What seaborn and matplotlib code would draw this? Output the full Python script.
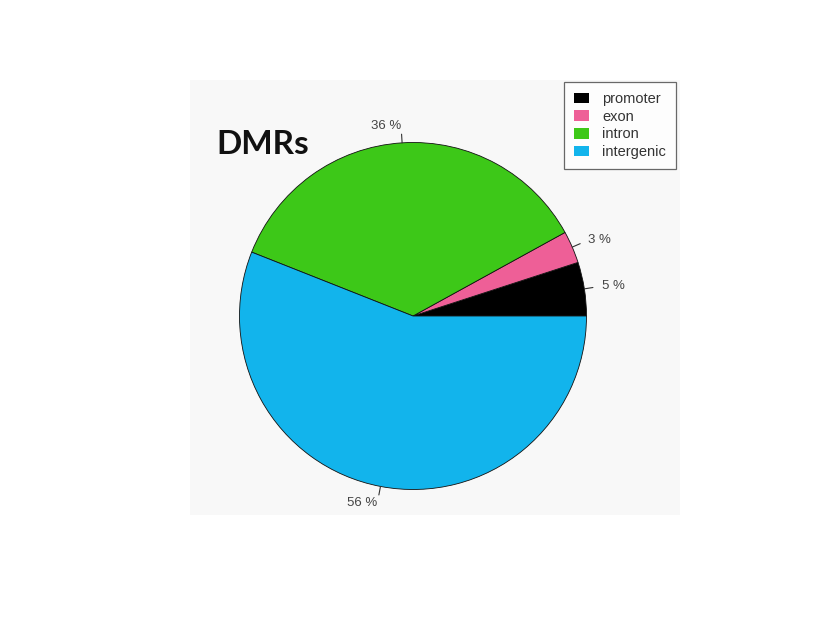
import numpy as np
import matplotlib
matplotlib.use("Agg")
import matplotlib.pyplot as plt
from matplotlib.patches import Patch, Rectangle
import seaborn as sns

categories = ["promoter", "exon", "intron", "intergenic"]
values = [5, 3, 36, 56]
pct_labels = ["5 %", "3 %", "36 %", "56 %"]
colors = ["#000000", "#EE5F97", "#3DC818", "#12B4EC"]
title = "DMRs"

sns.set_theme(style="white")
plt.rcParams['font.family'] = ['Liberation Sans', 'DejaVu Sans']

W, H = 840, 624
fig = plt.figure(figsize=(W / 100, H / 100), dpi=100)
fig.patch.set_facecolor("white")

# textured panel background
fig.patches.append(Rectangle((190 / W, 1 - 515 / H), 490 / W, 435 / H,
                             transform=fig.transFigure, facecolor="#f8f8f8",
                             edgecolor="none", zorder=-5))

R = 173.5
lim = 1.3
size = 2 * R * lim
cx, cy = 413, H - 316
ax = fig.add_axes([(cx - size / 2) / W, (cy - size / 2) / H, size / W, size / H])
ax.set_zorder(2)
ax.set_facecolor("none")
ax.patch.set_alpha(0)
wedges, _ = ax.pie(values, colors=colors, startangle=0, counterclock=True,
                   radius=1.0, wedgeprops=dict(edgecolor="#111111", linewidth=0.6))
ax.set_xlim(-lim, lim)
ax.set_ylim(-lim, lim)
ax.set_aspect("equal")
ax.axis("off")

for w, lab in zip(wedges, pct_labels):
    mid = np.deg2rad((w.theta1 + w.theta2) / 2)
    c, s = np.cos(mid), np.sin(mid)
    ax.plot([c, 1.05 * c], [s, 1.05 * s], color="#333333", lw=0.8)
    ax.text(1.1 * c, 1.1 * s, lab, ha="left" if c > 0 else "right", va="center",
            fontsize=9.5, color="#444444")

fig.text(216 / W, 1 - 144 / H, title, fontsize=24, fontweight="bold",
         family=["Lato", "DejaVu Sans"], color="#111111", ha="left", va="center",
         zorder=3)

handles = [Patch(facecolor=c, edgecolor="none") for c in colors]
leg = fig.legend(handles, categories, loc="upper right",
                 bbox_to_anchor=(676 / W, 1 - 82 / H), bbox_transform=fig.transFigure,
                 fontsize=10.5, frameon=True, fancybox=False, handlelength=1.0,
                 handleheight=0.75, handletextpad=0.9, labelspacing=0.25,
                 borderpad=0.7, borderaxespad=0)
leg.set_zorder(4)
leg.get_frame().set_edgecolor("#444444")
leg.get_frame().set_linewidth(0.9)
for t in leg.get_texts():
    t.set_color("#333333")

fig.savefig("out.png", dpi=100)
